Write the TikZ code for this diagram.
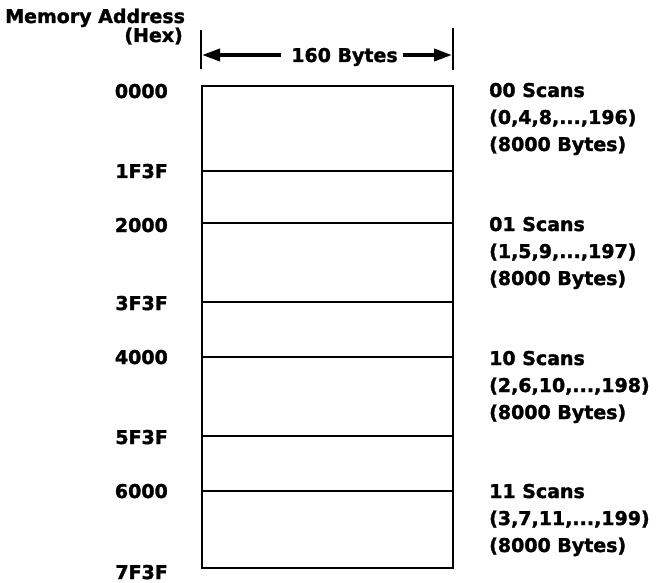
\documentclass[tikz,border=0pt]{standalone}
\usepackage{fontspec}
\setmainfont{DejaVu Sans}[BoldFeatures={FakeBold=1.6}]
\usetikzlibrary{arrows.meta}
\begin{document}
\begin{tikzpicture}[x=1pt,y=-1pt,
  txt/.style={font=\fontsize{19}{23}\selectfont\bfseries, inner sep=0pt},
  addr/.style={txt,anchor=base east},
  desc/.style={txt,anchor=base west},
  rule/.style={line width=2.2pt},
  tick/.style={line width=2.5pt},
  dim/.style={line width=3.6pt,-{Triangle[length=18pt,width=12pt]}}]
\useasboundingbox (0,0) rectangle (656,583);
% headings
\node[txt,anchor=base west] (mem) at (5,23) {Memory Address};
\node[txt,anchor=base east] (hex) at (183,42) {(Hex)};
% dimension
\coordinate (tl1) at (201,30);
\coordinate (tl2) at (201,69);
\coordinate (tr1) at (453,28);
\coordinate (tr2) at (453,70);
\draw[tick] (tl1) -- (tl2);
\draw[tick] (tr1) -- (tr2);
\node[txt,anchor=base] (bytes) at (344.5,62) {160 Bytes};
\coordinate (la) at (202,55);
\coordinate (ra) at (452,55);
\draw[dim] ([xshift=-10pt]bytes.west |- la) -- (la);
\draw[dim] ([xshift=5pt]bytes.east |- ra) -- (ra);
% memory box
\coordinate (btl) at (202,86);
\coordinate (bbr) at (453,568);
\draw[rule] (btl) rectangle (bbr);
\foreach \y [count=\i] in {171,223,302,357,436,491} {
  \coordinate (l\i) at (202,\y);
  \coordinate (r\i) at (453,\y);
  \draw[rule] (l\i) -- (r\i);
}
% addresses
\node[addr] (a0) at (168,98) {0000};
\node[addr] (a1) at (168,178) {1F3F};
\node[addr] (a2) at (168,232) {2000};
\node[addr] (a3) at (168,310) {3F3F};
\node[addr] (a4) at (168,364) {4000};
\node[addr] (a5) at (168,444) {5F3F};
\node[addr] (a6) at (168,498) {6000};
\node[addr] (a7) at (168,579) {7F3F};
% descriptions
\node[desc] (s0a) at (489,97) {00 Scans};
\node[desc] (s0b) at (489,124) {(0,4,8,...,196)};
\node[desc] (s0c) at (489,151) {(8000 Bytes)};
\node[desc] (s1a) at (489,231) {01 Scans};
\node[desc] (s1b) at (489,258) {(1,5,9,...,197)};
\node[desc] (s1c) at (489,285) {(8000 Bytes)};
\node[desc] (s2a) at (489,365) {10 Scans};
\node[desc] (s2b) at (489,392) {(2,6,10,...,198)};
\node[desc] (s2c) at (489,419) {(8000 Bytes)};
\node[desc] (s3a) at (489,498) {11 Scans};
\node[desc] (s3b) at (489,525) {(3,7,11,...,199)};
\node[desc] (s3c) at (489,552) {(8000 Bytes)};
\end{tikzpicture}
\end{document}
